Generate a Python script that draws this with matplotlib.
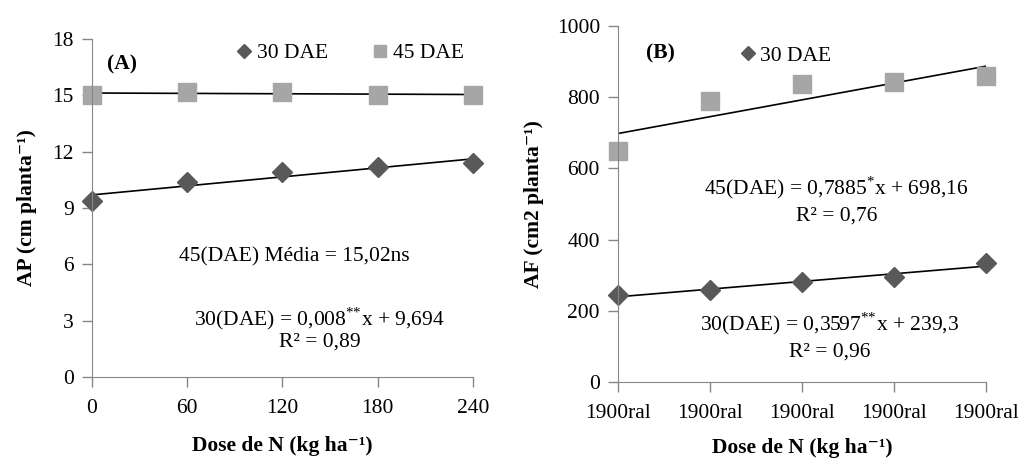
import numpy as np
import matplotlib
matplotlib.use('Agg')
import matplotlib.pyplot as plt
from matplotlib.lines import Line2D

plt.rcParams['font.family'] = ['Liberation Serif', 'DejaVu Serif']
plt.rcParams['mathtext.fontset'] = 'custom'
plt.rcParams['mathtext.rm'] = 'Liberation Serif'
plt.rcParams['mathtext.bf'] = 'Liberation Serif:bold'

# data
dose = [0, 60, 120, 180, 240]
ap_30 = [9.36, 10.37, 10.9, 11.2, 11.4]
ap_45 = [15.0, 15.2, 15.2, 15.0, 15.0]
af_30 = [244, 258, 281, 295, 334]
af_45 = [649, 789, 837, 843, 860]
xticks_a = ['0', '60', '120', '180', '240']
xticks_b = ['1900ral'] * 5

# regression coefficients shown on the chart
ap30_fit = (0.008, 9.694)
af30_fit = (0.3597, 239.3)
af45_fit = (0.7885, 698.16)

dark = '#595959'
light = '#a6a6a6'
axis_gray = '#868686'
fs = 15.5


def style(ax):
    for s in ['top', 'right']:
        ax.spines[s].set_visible(False)
    for s in ['left', 'bottom']:
        ax.spines[s].set_color(axis_gray)
    ax.tick_params(axis='both', colors=axis_gray, labelcolor='black', labelsize=fs, length=7, width=1)
    ax.tick_params(axis='x', pad=9)
    ax.tick_params(axis='y', pad=6)


fig = plt.figure(figsize=(10.24, 4.58), dpi=100)

# panel A
axA = fig.add_axes([0.0898, 0.177, 0.372, 0.738])
x = np.array(dose)
axA.plot(x, ap30_fit[0] * x + ap30_fit[1], color='black', lw=1.2)
p = np.polyfit(dose, ap_45, 1)
axA.plot(x, np.polyval(p, x), color='black', lw=1.2)
axA.plot(dose, ap_30, 'D', color=dark, ms=10, clip_on=False)
axA.plot(dose, ap_45, 's', color=light, ms=13.5, clip_on=False)
axA.set_xlim(0, 240)
axA.set_ylim(0, 18)
axA.set_xticks(dose)
axA.set_xticklabels(xticks_a)
axA.set_yticks([0, 3, 6, 9, 12, 15, 18])
style(axA)
axA.set_ylabel('AP (cm planta⁻¹)', fontsize=fs, fontweight='bold', labelpad=11)
axA.set_xlabel('Dose de N (kg ha⁻¹)', fontsize=fs, fontweight='bold', labelpad=13)
axA.legend(handles=[Line2D([], [], marker='D', ls='', color=dark, ms=7),
                    Line2D([], [], marker='s', ls='', color=light, ms=9)],
           labels=['30 DAE', '45 DAE'], ncol=2, frameon=False, fontsize=fs,
           loc='upper left', bbox_to_anchor=(0.32, 1.045), handletextpad=0.1,
           columnspacing=1.9, handlelength=1.0)
axA.text(0.04, 0.925, '(A)', transform=axA.transAxes, fontsize=fs, fontweight='bold', va='center')
axA.text(0.53, 0.356, '45(DAE) Média = 15,02ns', transform=axA.transAxes, fontsize=fs, ha='center', va='center')
axA.text(0.597, 0.173, '30(DAE) = 0,008$^{{*}{*}}$x + 9,694', transform=axA.transAxes, fontsize=fs, ha='center', va='center')
axA.text(0.597, 0.103, 'R² = 0,89', transform=axA.transAxes, fontsize=fs, ha='center', va='center')

# panel B
axB = fig.add_axes([0.6035, 0.166, 0.3595, 0.777])
axB.plot(x, af30_fit[0] * x + af30_fit[1], color='black', lw=1.2)
axB.plot(x, af45_fit[0] * x + af45_fit[1], color='black', lw=1.2)
axB.plot(dose, af_30, 'D', color=dark, ms=10, clip_on=False)
axB.plot(dose, af_45, 's', color=light, ms=13.5, clip_on=False)
axB.set_xlim(0, 240)
axB.set_ylim(0, 1000)
axB.set_xticks(dose)
axB.set_xticklabels(xticks_b)
axB.set_yticks([0, 200, 400, 600, 800, 1000])
style(axB)
axB.set_ylabel('AF (cm2 planta⁻¹)', fontsize=fs, fontweight='bold', labelpad=9)
axB.set_xlabel('Dose de N (kg ha⁻¹)', fontsize=fs, fontweight='bold', labelpad=11)
axB.legend(handles=[Line2D([], [], marker='D', ls='', color=dark, ms=7)], labels=['30 DAE'],
           frameon=False, fontsize=fs, loc='upper left', bbox_to_anchor=(0.27, 1.0),
           handletextpad=0.1, handlelength=1.0)
axB.text(0.075, 0.924, '(B)', transform=axB.transAxes, fontsize=fs, fontweight='bold', va='center')
axB.text(0.594, 0.546, '45(DAE) = 0,7885$^{*}$x + 698,16', transform=axB.transAxes, fontsize=fs, ha='center', va='center')
axB.text(0.594, 0.466, 'R² = 0,76', transform=axB.transAxes, fontsize=fs, ha='center', va='center')
axB.text(0.575, 0.163, '30(DAE) = 0,3597$^{{*}{*}}$x + 239,3', transform=axB.transAxes, fontsize=fs, ha='center', va='center')
axB.text(0.575, 0.084, 'R² = 0,96', transform=axB.transAxes, fontsize=fs, ha='center', va='center')

fig.savefig('out.png', dpi=100)
